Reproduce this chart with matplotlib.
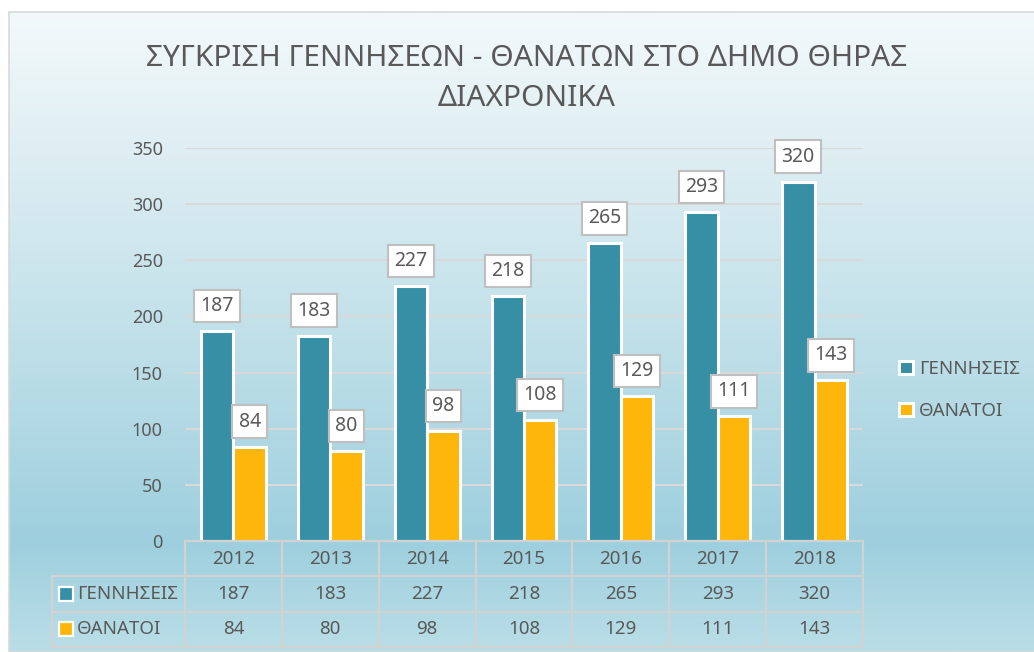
import numpy as np
import matplotlib
matplotlib.use("Agg")
import matplotlib.pyplot as plt
from matplotlib.patches import Rectangle
from matplotlib.colors import LinearSegmentedColormap

plt.rcParams['font.family'] = ['Noto Sans', 'DejaVu Sans']

# ---- data ----
years = ['2012', '2013', '2014', '2015', '2016', '2017', '2018']
births = [187, 183, 227, 218, 265, 293, 320]
deaths = [84, 80, 98, 108, 129, 111, 143]
series_names = ['ΓΕΝΝΗΣΕΙΣ', 'ΘΑΝΑΤΟΙ']
title = 'ΣΥΓΚΡΙΣΗ ΓΕΝΝΗΣΕΩΝ - ΘΑΝΑΤΩΝ ΣΤΟ ΔΗΜΟ ΘΗΡΑΣ\nΔΙΑΧΡΟΝΙΚΑ'
yticks = [0, 50, 100, 150, 200, 250, 300, 350]

BLUE = '#378FA6'
ORANGE = '#FFB60B'
TXT = '#595959'
GRID = '#D9D9D9'
TBL = '#D2D2D2'

W, H = 1034, 652
fig = plt.figure(figsize=(W / 100, H / 100), dpi=100)


def fx(px):
    return px / W


def fy(py):
    return 1 - py / H


# ---- background gradient ----
bg = fig.add_axes([fx(9), 0, 1 - fx(9), fy(12)], zorder=-10)
stops = [(0.0, (243, 249, 251)), (0.22, (222, 238, 243)), (0.53, (190, 223, 232)),
         (0.83, (158, 207, 222)), (1.0, (186, 222, 231))]
cmap = LinearSegmentedColormap.from_list('bg', [(p, tuple(c / 255 for c in col)) for p, col in stops])
grad = np.linspace(0, 1, 400).reshape(-1, 1)
bg.imshow(grad, aspect='auto', cmap=cmap, extent=[0, 1, 1, 0])
bg.set_xlim(0, 1)
bg.set_ylim(1, 0)
bg.axis('off')
fig.patches.append(Rectangle((fx(9), 0), 1 - fx(9) + 0.01, fy(12), transform=fig.transFigure,
                             fill=False, edgecolor='#D9D9D9', linewidth=1.2, zorder=-5))

# ---- title ----
fig.text(fx(527), fy(79), title, ha='center', va='center', fontsize=21.5, color=TXT,
         linespacing=1.5)

# ---- main axes ----
L, R, T, B = 185, 863, 148, 541
ax = fig.add_axes([fx(L), fy(B), fx(R - L), (B - T) / H])
ax.patch.set_alpha(0)
x = np.arange(len(years))
bw = 0.335
off = 0.168
b1 = ax.bar(x - off, births, bw, color=BLUE, edgecolor='white', linewidth=2.2,
            label=series_names[0], zorder=3)
b2 = ax.bar(x + off, deaths, bw, color=ORANGE, edgecolor='white', linewidth=2.2,
            label=series_names[1], zorder=3)
ax.set_xlim(-0.5, len(years) - 0.5)
ax.set_ylim(0, 350)
ax.set_yticks(yticks)
ax.set_xticks([])
ax.tick_params(axis='y', length=0, labelsize=13, labelcolor=TXT, pad=16)
for s in ax.spines.values():
    s.set_visible(False)
ax.grid(axis='y', color=GRID, linewidth=1.5, zorder=0)

for xs, vals in ((x - off, births), (x + off, deaths)):
    for xi, v in zip(xs, vals):
        ax.annotate(str(v), (xi, v), xytext=(0, 18), textcoords='offset points',
                    ha='center', va='center', fontsize=14, color=TXT, zorder=5,
                    annotation_clip=False,
                    bbox=dict(boxstyle='square,pad=0.32', facecolor='white',
                              edgecolor='#BFBFBF', linewidth=1.5))

fig.legend(handles=[b1, b2], loc='center left', bbox_to_anchor=(fx(899), fy(390)),
           frameon=False, fontsize=13.5, labelcolor=TXT, handlelength=0.72,
           handleheight=0.72, handletextpad=0.33, labelspacing=1.3,
           borderpad=0, borderaxespad=0)

# ---- data table ----
TL, TB = 52, 647
colw = (R - L) / len(years)
left_u = -0.5 - (L - TL) / colw
tax = fig.add_axes([fx(TL), fy(TB), fx(R - TL), (TB - B) / H])
tax.patch.set_alpha(0)
tax.set_xlim(left_u, len(years) - 0.5)
tax.set_ylim(3, 0)
tax.axis('off')
lw = 1.6
tax.plot([-0.5, len(years) - 0.5], [0, 0], color=TBL, lw=lw, clip_on=False)
for r in (1, 2, 3):
    tax.plot([left_u, len(years) - 0.5], [r, r], color=TBL, lw=lw, clip_on=False)
for k in range(len(years) + 1):
    tax.plot([k - 0.5, k - 0.5], [0, 3], color=TBL, lw=lw, clip_on=False)
tax.plot([left_u, left_u], [1, 3], color=TBL, lw=lw, clip_on=False)

for i, yr in enumerate(years):
    tax.text(i, 0.5, yr, ha='center', va='center', fontsize=13.5, color=TXT)
for row, (vals, col, name) in enumerate(((births, BLUE, series_names[0]),
                                          (deaths, ORANGE, series_names[1])), start=1):
    for i, v in enumerate(vals):
        tax.text(i, row + 0.5, str(v), ha='center', va='center', fontsize=13.5, color=TXT)
    tax.plot([left_u + (66 - TL) / colw], [row + 0.5], marker='s', markersize=9.5,
             color=col, markeredgecolor='white', markeredgewidth=1.6, clip_on=False)
    tax.text(left_u + (77 - TL) / colw, row + 0.5, name, ha='left', va='center',
             fontsize=13.5, color=TXT)

fig.savefig('out.png', dpi=100)
